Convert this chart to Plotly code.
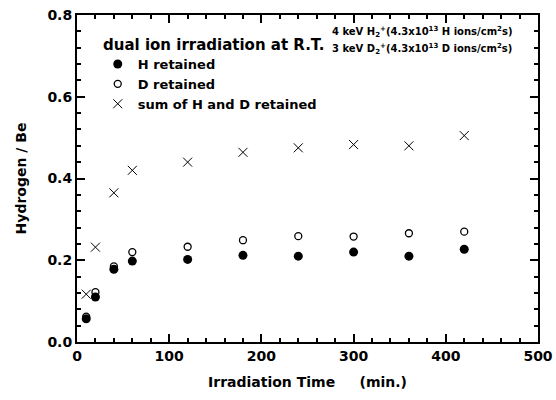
import plotly.graph_objects as go

time_min = [10, 20, 40, 60, 120, 180, 240, 300, 360, 420]
h_retained = [0.057, 0.11, 0.178, 0.198, 0.202, 0.212, 0.21, 0.22, 0.21, 0.227]
d_retained = [0.062, 0.122, 0.185, 0.22, 0.233, 0.249, 0.259, 0.258, 0.266, 0.27]
sum_retained = [0.117, 0.232, 0.365, 0.42, 0.44, 0.464, 0.475, 0.483, 0.48, 0.505]

x_ticks = [0, 100, 200, 300, 400, 500]
y_ticks = [0.0, 0.2, 0.4, 0.6, 0.8]

FONT = "DejaVu Sans"
fig = go.Figure()
fig.add_trace(go.Scatter(x=time_min, y=h_retained, mode="markers", name="H retained",
                         marker=dict(symbol="circle", size=9, color="black")))
fig.add_trace(go.Scatter(x=time_min, y=d_retained, mode="markers", name="D retained",
                         marker=dict(symbol="circle-open", size=7, color="black", line=dict(width=1.3))))
fig.add_trace(go.Scatter(x=time_min, y=sum_retained, mode="markers", name="sum of H and D retained",
                         marker=dict(symbol="x-thin-open", size=9, color="black", line=dict(width=1))))

axis_common = dict(showline=True, linecolor="black", linewidth=2, mirror="ticks",
                   ticks="inside", ticklen=8, tickwidth=2, tickcolor="black",
                   showgrid=False, zeroline=False, automargin=False,
                   tickfont=dict(family=FONT, size=14, color="black", weight="bold"))

fig.update_xaxes(range=[0, 500], tickvals=x_ticks, ticktext=[str(v) for v in x_ticks],
                 minor=dict(dtick=20, ticks="inside", ticklen=4, tickwidth=1.5, tickcolor="black"),
                 title=dict(text="Irradiation Time     (min.)",
                            font=dict(family=FONT, size=14, color="black", weight="bold"),
                            standoff=14),
                 **axis_common)
fig.update_yaxes(range=[0, 0.8], tickvals=y_ticks, ticktext=[f"{v:.1f}" for v in y_ticks],
                 minor=dict(dtick=0.04, ticks="inside", ticklen=4, tickwidth=1.5, tickcolor="black"),
                 title=dict(text="Hydrogen / Be",
                            font=dict(family=FONT, size=14, color="black", weight="bold"),
                            standoff=17),
                 **axis_common)

fig.add_annotation(xref="paper", yref="paper", x=0.052, y=0.908, xanchor="left", yanchor="middle",
                   text="dual ion irradiation at R.T.", showarrow=False,
                   font=dict(family=FONT, size=15, color="black", weight="bold"))
fig.add_annotation(xref="paper", yref="paper", x=0.549, y=0.948, xanchor="left", yanchor="middle",
                   text="4 keV H<sub>2</sub><sup>+</sup>(4.3x10<sup>13</sup> H ions/cm<sup>2</sup>s)",
                   showarrow=False, font=dict(family=FONT, size=10, color="black", weight="bold"))
fig.add_annotation(xref="paper", yref="paper", x=0.549, y=0.896, xanchor="left", yanchor="middle",
                   text="3 keV D<sub>2</sub><sup>+</sup>(4.3x10<sup>13</sup> D ions/cm<sup>2</sup>s)",
                   showarrow=False, font=dict(family=FONT, size=10, color="black", weight="bold"))

fig.update_layout(
    width=556, height=400,
    margin=dict(l=77, r=18, t=15, b=58),
    paper_bgcolor="white", plot_bgcolor="white",
    showlegend=True,
    legend=dict(x=0.045, y=0.896, xanchor="left", yanchor="top", bgcolor="rgba(0,0,0,0)",
                font=dict(family=FONT, size=13, color="black", weight="bold"), tracegroupgap=0,
                itemwidth=30),
)

fig.write_html("out.html", config={"displayModeBar": False},
               post_script="document.body.style.margin='0px';")
